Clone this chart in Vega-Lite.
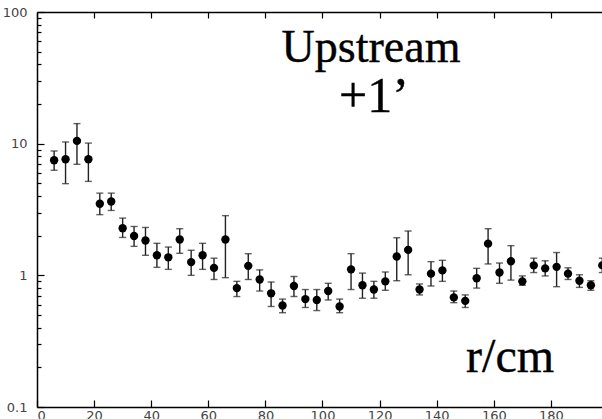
{
  "$schema": "https://vega.github.io/schema/vega-lite/v6.json",
  "autosize": {"type": "none"},
  "width": 565,
  "height": 395,
  "padding": {"left": 37, "top": 12, "right": 0, "bottom": 12},
  "background": "white",
  "config": {
    "view": {"stroke": null},
    "axis": {"grid": false, "domainColor": "black", "domainWidth": 1.5, "tickColor": "black", "tickWidth": 1.2, "labelFont": "DejaVu Sans", "labelFontSize": 13, "labelColor": "#444", "title": null}
  },
  "datasets": {
    "pts": [
      {"r": 6, "v": 7.48, "lo": 6.28, "hi": 8.8},
      {"r": 10, "v": 7.61, "lo": 4.97, "hi": 10.3},
      {"r": 14, "v": 10.5, "lo": 6.97, "hi": 14.2},
      {"r": 18, "v": 7.61, "lo": 5.17, "hi": 10.1},
      {"r": 22, "v": 3.5, "lo": 2.89, "hi": 4.21},
      {"r": 26, "v": 3.64, "lo": 3.11, "hi": 4.21},
      {"r": 30, "v": 2.28, "lo": 1.94, "hi": 2.72},
      {"r": 34, "v": 1.99, "lo": 1.66, "hi": 2.35},
      {"r": 38, "v": 1.84, "lo": 1.42, "hi": 2.31},
      {"r": 42, "v": 1.42, "lo": 1.15, "hi": 1.75},
      {"r": 46, "v": 1.37, "lo": 1.11, "hi": 1.64},
      {"r": 50, "v": 1.87, "lo": 1.47, "hi": 2.26},
      {"r": 54, "v": 1.26, "lo": 1.0, "hi": 1.55},
      {"r": 58, "v": 1.42, "lo": 1.11, "hi": 1.75},
      {"r": 62, "v": 1.14, "lo": 0.93, "hi": 1.35},
      {"r": 66, "v": 1.87, "lo": 0.96, "hi": 2.84},
      {"r": 70, "v": 0.8, "lo": 0.69, "hi": 0.9},
      {"r": 74, "v": 1.18, "lo": 0.93, "hi": 1.46},
      {"r": 78, "v": 0.93, "lo": 0.76, "hi": 1.1},
      {"r": 82, "v": 0.73, "lo": 0.58, "hi": 0.89},
      {"r": 86, "v": 0.59, "lo": 0.52, "hi": 0.66},
      {"r": 90, "v": 0.83, "lo": 0.69, "hi": 0.98},
      {"r": 94, "v": 0.66, "lo": 0.57, "hi": 0.78},
      {"r": 98, "v": 0.65, "lo": 0.54, "hi": 0.78},
      {"r": 102, "v": 0.76, "lo": 0.65, "hi": 0.87},
      {"r": 106, "v": 0.58, "lo": 0.52, "hi": 0.66},
      {"r": 110, "v": 1.11, "lo": 0.78, "hi": 1.46},
      {"r": 114, "v": 0.84, "lo": 0.67, "hi": 1.04},
      {"r": 118, "v": 0.78, "lo": 0.67, "hi": 0.9},
      {"r": 122, "v": 0.9, "lo": 0.77, "hi": 1.06},
      {"r": 126, "v": 1.39, "lo": 0.91, "hi": 1.93},
      {"r": 130, "v": 1.56, "lo": 1.01, "hi": 2.17},
      {"r": 134, "v": 0.78, "lo": 0.71, "hi": 0.86},
      {"r": 138, "v": 1.03, "lo": 0.83, "hi": 1.27},
      {"r": 142, "v": 1.09, "lo": 0.9, "hi": 1.3},
      {"r": 146, "v": 0.68, "lo": 0.62, "hi": 0.76},
      {"r": 150, "v": 0.64, "lo": 0.57, "hi": 0.71},
      {"r": 154, "v": 0.95, "lo": 0.8, "hi": 1.13},
      {"r": 158, "v": 1.74, "lo": 1.22, "hi": 2.26},
      {"r": 162, "v": 1.05, "lo": 0.87, "hi": 1.24},
      {"r": 166, "v": 1.28, "lo": 0.92, "hi": 1.68},
      {"r": 170, "v": 0.9, "lo": 0.84, "hi": 0.99},
      {"r": 174, "v": 1.19, "lo": 1.05, "hi": 1.35},
      {"r": 178, "v": 1.13, "lo": 0.99, "hi": 1.29},
      {"r": 182, "v": 1.16, "lo": 0.82, "hi": 1.49},
      {"r": 186, "v": 1.03, "lo": 0.93, "hi": 1.14},
      {"r": 190, "v": 0.91, "lo": 0.81, "hi": 1.01},
      {"r": 194, "v": 0.84, "lo": 0.77, "hi": 0.91},
      {"r": 198, "v": 1.19, "lo": 1.05, "hi": 1.35}
    ],
    "title1": [{"r": 117, "v": 41.6, "t": "Upstream"}],
    "title2": [{"r": 118, "v": 17.3, "t": "+1’"}],
    "xlab": [{"r": 165.7, "v": 0.1854, "t": "r/cm"}]
  },
  "resolve": {"axis": {"x": "independent", "y": "independent"}},
  "layer": [
    {
      "data": {"name": "pts"},
      "mark": {"type": "rule", "color": "#222", "strokeWidth": 1.4},
      "encoding": {
        "x": {"field": "r", "type": "quantitative", "scale": {"domain": [0, 197.9], "nice": false, "zero": false},
              "axis": {"orient": "top", "labels": false, "values": [0, 20, 40, 60, 80, 100, 120, 140, 160, 180], "tickSize": -6}},
        "y": {"field": "lo", "type": "quantitative", "scale": {"type": "log", "domain": [0.1, 100], "nice": false}, "axis": null},
        "y2": {"field": "hi"}
      }
    },
    {
      "data": {"name": "pts"},
      "mark": {"type": "tick", "orient": "horizontal", "color": "#222", "size": 7, "thickness": 1.4},
      "encoding": {
        "x": {"field": "r", "type": "quantitative", "axis": null},
        "y": {"field": "lo", "type": "quantitative", "axis": null}
      }
    },
    {
      "data": {"name": "pts"},
      "mark": {"type": "tick", "orient": "horizontal", "color": "#222", "size": 7, "thickness": 1.4},
      "encoding": {
        "x": {"field": "r", "type": "quantitative", "axis": null},
        "y": {"field": "hi", "type": "quantitative", "axis": null}
      }
    },
    {
      "data": {"name": "pts"},
      "mark": {"type": "point", "filled": true, "color": "black", "opacity": 1, "size": 70},
      "encoding": {
        "x": {"field": "r", "type": "quantitative",
              "axis": {"orient": "bottom", "values": [0, 20, 40, 60, 80, 100, 120, 140, 160, 180, 200], "tickSize": -7, "labelPadding": 9}},
        "y": {"field": "v", "type": "quantitative",
              "axis": {"orient": "left",
                       "values": [0.1, 0.2, 0.3, 0.4, 0.5, 0.6, 0.7, 0.8, 0.9, 1, 2, 3, 4, 5, 6, 7, 8, 9, 10, 20, 30, 40, 50, 60, 70, 80, 90, 100],
                       "labelExpr": "indexof([0.1, 1, 10, 100], datum.value) >= 0 ? format(datum.value, '~g') : ''",
                       "tickSize": {"condition": {"test": "indexof([0.1, 1, 10, 100], datum.value) >= 0", "value": -7}, "value": -4},
                       "labelPadding": 17}}
      }
    },
    {
      "data": {"name": "title1"},
      "mark": {"type": "text", "font": "Liberation Serif", "fontSize": 46, "color": "black", "stroke": "black", "strokeWidth": 0.4, "align": "center", "baseline": "alphabetic"},
      "encoding": {
        "x": {"field": "r", "type": "quantitative", "axis": null},
        "y": {"field": "v", "type": "quantitative", "axis": null},
        "text": {"field": "t"}
      }
    },
    {
      "data": {"name": "title2"},
      "mark": {"type": "text", "font": "Liberation Serif", "fontSize": 50, "color": "black", "stroke": "black", "strokeWidth": 0.4, "align": "center", "baseline": "alphabetic"},
      "encoding": {
        "x": {"field": "r", "type": "quantitative", "axis": null},
        "y": {"field": "v", "type": "quantitative", "axis": null},
        "text": {"field": "t"}
      }
    },
    {
      "data": {"name": "xlab"},
      "mark": {"type": "text", "font": "Liberation Serif", "fontSize": 48, "color": "black", "stroke": "black", "strokeWidth": 0.4, "align": "center", "baseline": "alphabetic"},
      "encoding": {
        "x": {"field": "r", "type": "quantitative", "axis": null},
        "y": {"field": "v", "type": "quantitative", "axis": null},
        "text": {"field": "t"}
      }
    }
  ]
}
